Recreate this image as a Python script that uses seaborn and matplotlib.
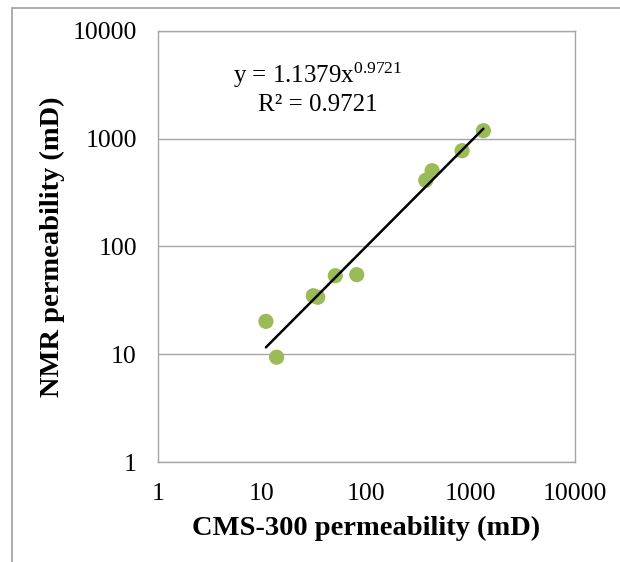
import numpy as np
import pandas as pd
import matplotlib
matplotlib.use("Agg")
import matplotlib.pyplot as plt
import seaborn as sns
from matplotlib.lines import Line2D

cms300 = [10.9, 13.8, 31.0, 34.2, 50.4, 80.9, 371, 427, 827, 1324]
nmr = [20.2, 9.4, 34.9, 33.8, 53.5, 54.7, 410, 503, 771, 1181]
coef_a = 1.1379
coef_b = 0.9721
r2 = 0.9721
tick_vals = [1, 10, 100, 1000, 10000]
tick_labels = ["1", "10", "100", "1000", "10000"]

sns.set_theme(style="white")
plt.rcParams['font.family'] = ['Liberation Serif', 'DejaVu Serif']
plt.rcParams['mathtext.fontset'] = 'custom'
plt.rcParams['mathtext.rm'] = 'Liberation Serif'
plt.rcParams['mathtext.it'] = 'Liberation Serif:italic'
plt.rcParams['mathtext.bf'] = 'Liberation Serif:bold'
plt.rcParams['text.color'] = 'black'

df = pd.DataFrame({"x": cms300, "y": nmr})

W, H = 620, 562
fig = plt.figure(figsize=(6.2, 5.62), dpi=100)
ax = fig.add_axes([157.7/W, 1 - 462.2/H, (575 - 157.7)/W, (462.2 - 30.6)/H])

grid_c = "#a6a6a6"
sns.scatterplot(data=df, x="x", y="y", ax=ax, color="#9bbb59", s=120,
                edgecolor="none", zorder=3)

xs = np.logspace(np.log10(min(cms300)), np.log10(max(cms300)), 50)
ax.plot(xs, coef_a * xs ** coef_b, color="black", lw=1.8, zorder=4)

ax.set_xscale("log")
ax.set_yscale("log")
ax.set_xlim(1, 10000)
ax.set_ylim(1, 10000)
ax.set_xticks(tick_vals)
ax.set_xticklabels(tick_labels)
ax.set_yticks(tick_vals)
ax.set_yticklabels(tick_labels)
ax.minorticks_off()
ax.yaxis.grid(True, color=grid_c, lw=1)
ax.xaxis.grid(False)
for s in ax.spines.values():
    s.set_color(grid_c)
    s.set_linewidth(1)
ax.tick_params(axis="both", which="major", length=6, width=1, color=grid_c,
               direction="out", labelsize=18.5, labelcolor="black")
ax.tick_params(axis="x", pad=9)
ax.tick_params(axis="y", pad=9)
ax.set_xlabel("")
ax.set_ylabel("")
fig.text(366/W, 1 - 528/H, "CMS-300 permeability (mD)", fontsize=20.5,
         fontweight="bold", ha="center", va="center", color="black")
fig.text(52/W, 1 - 247/H, "NMR permeability (mD)", fontsize=20.5,
         fontweight="bold", ha="center", va="center", rotation=90, color="black")

fig.text(318/W, 1 - 75/H, f"y = {coef_a}x$^{{{coef_b}}}$",
         fontsize=18, ha="center", va="center", color="black")
fig.text(318/W, 1 - 105/H, f"R² = {r2}",
         fontsize=18, ha="center", va="center", color="black")

# outer frame (top and left edges)
fig.add_artist(Line2D([12/W, 1], [1 - 8/H, 1 - 8/H], transform=fig.transFigure,
                      color="#a0a0a0", lw=1.2))
fig.add_artist(Line2D([12/W, 12/W], [0, 1 - 8/H], transform=fig.transFigure,
                      color="#a0a0a0", lw=1.2))

fig.savefig("out.png", dpi=100, facecolor="white")
